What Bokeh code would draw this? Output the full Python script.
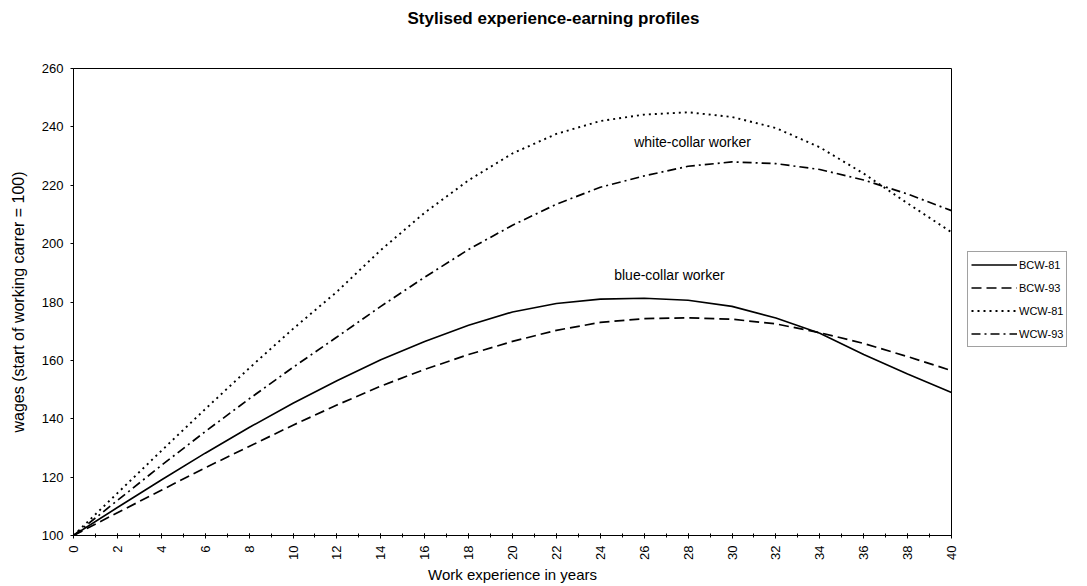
import numpy as np
from bokeh.plotting import figure
from bokeh.layouts import column, row
from bokeh.models import ColumnDataSource, Legend, LegendItem, Label, FixedTicker, Range1d
from bokeh.embed import file_html
from bokeh.resources import INLINE

# ---- data ----
years = list(range(0, 41, 2))
bcw81 = [100, 109.6, 119.0, 128.2, 137.0, 145.3, 153.0, 160.2, 166.5, 172.0, 176.6,
         179.5, 181.0, 181.3, 180.6, 178.5, 174.5, 169.3, 162.0, 155.3, 149.0]
bcw93 = [100, 107.8, 115.5, 123.2, 130.5, 137.8, 144.7, 151.2, 156.9, 162.0, 166.5,
         170.3, 173.0, 174.3, 174.6, 174.1, 172.5, 169.5, 165.8, 161.3, 156.5]
wcw81 = [100, 114.5, 129.0, 143.3, 157.3, 170.8, 183.5, 197.8, 210.6, 221.7, 230.9,
         237.6, 242.0, 244.2, 245.0, 243.4, 239.6, 233.0, 224.0, 213.8, 203.9]
wcw93 = [100, 112.0, 124.0, 135.6, 146.8, 157.6, 168.0, 178.5, 188.5, 198.0, 206.3,
         213.5, 219.3, 223.2, 226.5, 228.0, 227.4, 225.4, 221.8, 217.0, 211.3]
series_cols = ["bcw81", "bcw93", "wcw81", "wcw93"]
series_names = ["BCW-81", "BCW-93", "WCW-81", "WCW-93"]
x_ticks = list(range(0, 41, 2))
x_minor = list(range(0, 41, 1))
y_ticks = list(range(100, 261, 20))
title_text = "Stylised experience-earning profiles"
x_label = "Work experience in years"
y_label = "wages (start of working carrer = 100)"
annot_white = "white-collar worker"
annot_blue = "blue-collar worker"

FONT = "Liberation Sans"
DASHES = ["solid", "10 5", "2 4", "9 4 2 4"]
WIDTHS = [1.6, 1.7, 1.9, 1.7]

src = ColumnDataSource(dict(x=years, bcw81=bcw81, bcw93=bcw93, wcw81=wcw81, wcw93=wcw93))

# ---------------- title strip ----------------
pt = figure(width=1087, height=40, output_backend="svg", toolbar_location=None,
            x_range=Range1d(0, 1087), y_range=Range1d(0, 40), min_border=0)
pt.axis.visible = False
pt.grid.visible = False
pt.outline_line_color = None
pt.add_layout(Label(x=553, y=22, text=title_text, text_align="center", text_baseline="middle",
                    text_font=FONT, text_font_size="17px", text_font_style="bold",
                    text_color="black"))

# ---------------- main chart ----------------
p = figure(width=960, height=546, output_backend="svg", toolbar_location=None,
           x_range=Range1d(0, 40), y_range=Range1d(100, 260),
           min_border_left=73, min_border_right=9, min_border_top=28, min_border_bottom=51)
p.grid.visible = False
p.outline_line_color = "black"
p.outline_line_width = 1
p.background_fill_color = "white"
p.border_fill_color = "white"

for col, dash, w in zip(series_cols, DASHES, WIDTHS):
    p.line("x", col, source=src, line_color="black", line_width=w, line_dash=dash)

xa = p.xaxis[0]
xa.ticker = FixedTicker(ticks=x_ticks, minor_ticks=x_minor)
xa.major_label_orientation = np.pi / 2
xa.axis_label = x_label
xa.axis_label_text_font = FONT
xa.axis_label_text_font_size = "15px"
xa.axis_label_text_font_style = "normal"
xa.axis_label_text_color = "black"
xa.axis_label_standoff = 3
xa.major_label_text_font = FONT
xa.major_label_text_font_size = "13px"
xa.major_label_text_color = "black"
xa.major_label_standoff = 7
xa.major_tick_in = 2
xa.major_tick_out = 3
xa.minor_tick_in = 2
xa.minor_tick_out = 2
xa.axis_line_color = "black"
xa.major_tick_line_color = "black"
xa.minor_tick_line_color = "black"

ya = p.yaxis[0]
ya.ticker = FixedTicker(ticks=y_ticks, minor_ticks=[])
ya.axis_label = y_label
ya.axis_label_text_font = FONT
ya.axis_label_text_font_size = "16px"
ya.axis_label_text_font_style = "normal"
ya.axis_label_text_color = "black"
ya.axis_label_standoff = 12
ya.major_label_text_font = FONT
ya.major_label_text_font_size = "13px"
ya.major_label_text_color = "black"
ya.major_label_standoff = 7
ya.major_tick_in = 0
ya.major_tick_out = 3
ya.axis_line_color = "black"
ya.major_tick_line_color = "black"

p.add_layout(Label(x=28.2, y=234.7, text=annot_white, text_align="center", text_baseline="middle",
                   text_font=FONT, text_font_size="14px", text_color="black"))
p.add_layout(Label(x=27.15, y=189.3, text=annot_blue, text_align="center", text_baseline="middle",
                   text_font=FONT, text_font_size="14px", text_color="black"))

# ---------------- legend strip ----------------
pl = figure(width=127, height=546, output_backend="svg", toolbar_location=None,
            x_range=Range1d(0, 1), y_range=Range1d(0, 1), min_border=0)
pl.axis.visible = False
pl.grid.visible = False
pl.outline_line_color = None
# same series drawn here only to feed the legend (they fall outside this strip's ranges)
leg_renderers = [pl.line("x", c, source=src, line_color="black", line_width=w, line_dash=d)
                 for c, d, w in zip(series_cols, DASHES, WIDTHS)]
legend = Legend(items=[LegendItem(label=n, renderers=[r]) for n, r in zip(series_names, leg_renderers)],
                location=(7, 188), orientation="vertical")
legend.label_text_font = FONT
legend.label_text_font_size = "11px"
legend.label_text_color = "black"
legend.glyph_width = 46
legend.glyph_height = 19
legend.label_height = 19
legend.label_standoff = 2
legend.spacing = 4
legend.padding = 3
legend.margin = 0
legend.border_line_color = "#444444"
legend.border_line_width = 1
legend.background_fill_color = "white"
legend.background_fill_alpha = 1
pl.add_layout(legend)

layout = column(pt, row(p, pl))
open("out.html", "w").write(file_html(layout, INLINE))
